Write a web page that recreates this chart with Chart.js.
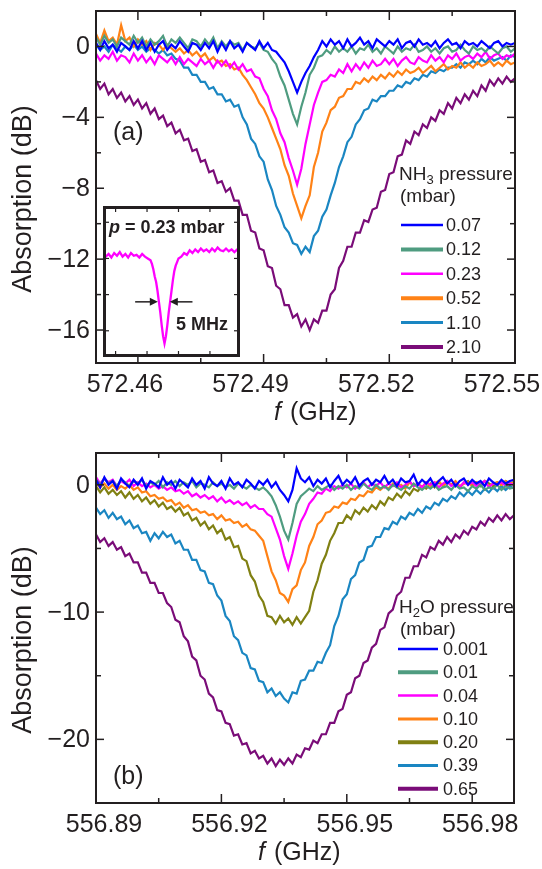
<!DOCTYPE html>
<html>
<head>
<meta charset="utf-8">
<script src="https://cdn.jsdelivr.net/npm/chart.js@4.4.1/dist/chart.umd.min.js"></script>
<style>
body { margin: 0; background: #fff; }
#wrap { position: relative; width: 542px; height: 869px; }
canvas { position: absolute; }
</style>
</head>
<body>
<div id="wrap">
<canvas id="chartA" width="542" height="440" style="left:0px;top:0px"></canvas>
<canvas id="chartB" width="542" height="429" style="left:0px;top:440px"></canvas>
<canvas id="inset" width="137" height="151" style="left:103px;top:206px"></canvas>
</div>
<script>
// ---- panel (a): NH3 line near 572.50 GHz ----
const freqA = [
572.450,572.451,572.452,572.453,572.454,572.455,572.456,572.457,572.458,572.459,
572.460,572.461,572.462,572.463,572.464,572.465,572.466,572.467,572.468,572.469,
572.470,572.471,572.472,572.473,572.474,572.475,572.476,572.477,572.478,572.479,
572.480,572.481,572.482,572.483,572.484,572.485,572.486,572.487,572.488,572.489,
572.490,572.491,572.492,572.493,572.494,572.495,572.496,572.497,572.498,572.499,
572.500,572.501,572.502,572.503,572.504,572.505,572.506,572.507,572.508,572.509,
572.510,572.511,572.512,572.513,572.514,572.515,572.516,572.517,572.518,572.519,
572.520,572.521,572.522,572.523,572.524,572.525,572.526,572.527,572.528,572.529,
572.530,572.531,572.532,572.533,572.534,572.535,572.536,572.537,572.538,572.539,
572.540,572.541,572.542,572.543,572.544,572.545,572.546,572.547,572.548,572.549,
572.550];
const nh3Pressures = ['0.07', '0.12', '0.23', '0.52', '1.10', '2.10'];
const absNH3_007 = [
0.2,-0.2,0.3,-0.1,0.1,-0.3,0.2,0.0,-0.2,0.3,
-0.1,0.3,-0.2,0.2,-0.3,0.1,0.3,-0.2,0.1,-0.1,
0.3,0.0,-0.3,0.2,0.1,-0.2,0.2,-0.1,0.3,-0.3,
0.2,-0.2,0.3,-0.1,0.1,-0.3,0.2,0.0,-0.2,0.3,
-0.1,0.2,-0.2,-0.3,-0.6,-0.9,-1.4,-2.0,-2.6,-2.0,
-1.5,-1.1,-0.6,-0.2,0.3,0.0,0.4,0.1,0.3,-0.1,
0.4,0.0,0.2,0.5,0.1,0.3,-0.1,0.4,0.2,0.0,
0.3,0.1,0.4,-0.1,0.2,0.3,0.0,0.4,0.1,0.2,
0.0,0.3,-0.1,0.2,0.4,0.1,0.2,-0.1,0.3,0.1,
0.2,0.0,0.3,0.1,-0.1,0.2,0.3,0.0,0.2,0.1,
0.2];
const absNH3_012 = [
0.5,0.1,0.6,0.2,0.4,0.0,0.5,0.3,0.1,0.6,
0.2,0.5,0.0,0.4,0.1,0.3,0.6,0.0,0.4,0.2,
0.5,0.2,-0.1,0.4,0.3,0.0,0.4,0.1,0.5,-0.1,
0.3,0.0,0.3,0.1,0.2,-0.2,0.2,0.0,-0.1,0.2,
-0.2,-0.3,-0.7,-1.0,-1.7,-2.2,-3.0,-3.8,-4.4,-3.4,
-2.6,-1.6,-1.2,-0.6,-0.5,-0.2,-0.4,0.0,-0.3,-0.1,
-0.3,0.0,-0.4,-0.1,-0.2,0.1,-0.3,-0.1,-0.4,0.0,
-0.2,-0.4,0.0,-0.3,-0.1,-0.2,0.1,-0.3,-0.2,0.0,
-0.3,-0.1,-0.4,-0.1,0.0,-0.3,-0.2,0.1,-0.2,-0.4,
0.0,-0.2,-0.1,-0.3,0.0,-0.2,-0.4,-0.1,0.0,-0.3,
-0.1];
const absNH3_023 = [
-0.4,-0.8,-0.5,-0.7,-0.3,-0.8,-0.5,-0.6,-0.9,-0.4,
-0.8,-0.5,-0.9,-0.6,-1.0,-0.5,-0.7,-0.9,-0.6,-1.0,
-0.6,-1.0,-0.7,-0.9,-1.1,-0.7,-1.0,-0.8,-1.2,-0.8,
-1.1,-0.8,-1.2,-0.9,-1.3,-1.0,-1.4,-1.3,-1.7,-1.8,
-2.4,-2.8,-3.6,-4.1,-4.9,-5.4,-6.3,-7.0,-7.8,-6.9,
-5.5,-4.4,-3.3,-2.6,-2.0,-1.9,-1.6,-1.7,-1.3,-1.5,
-1.0,-1.4,-1.0,-1.3,-0.9,-1.2,-0.8,-1.1,-1.0,-0.7,
-1.0,-0.7,-1.1,-0.8,-0.6,-0.9,-1.0,-0.6,-0.8,-0.9,
-0.5,-0.8,-0.6,-0.9,-0.5,-0.7,-0.4,-0.8,-0.6,-0.5,
-0.7,-0.4,-0.6,-0.3,-0.7,-0.5,-0.4,-0.7,-0.5,-0.6,
-0.4];
const absNH3_052 = [
0.7,0.2,0.9,0.3,0.5,0.1,1.2,0.3,0.5,0.0,
0.4,0.1,0.3,-0.2,0.2,0.1,-0.2,0.1,-0.1,-0.3,
-0.1,-0.4,-0.2,-0.5,-0.3,-0.6,-0.4,-0.8,-0.6,-0.9,
-0.8,-1.1,-1.0,-1.3,-1.2,-1.6,-1.9,-2.3,-2.7,-3.2,
-3.5,-4.0,-4.6,-5.2,-5.8,-6.7,-7.3,-8.3,-9.0,-9.7,
-9.0,-8.4,-6.8,-6.0,-4.8,-4.3,-3.6,-3.4,-2.9,-2.8,
-2.4,-2.4,-2.0,-2.1,-1.8,-2.0,-1.7,-1.9,-1.6,-1.8,
-1.5,-1.7,-1.4,-1.6,-1.3,-1.5,-1.4,-1.2,-1.5,-1.3,
-1.1,-1.4,-1.2,-1.0,-1.3,-1.1,-1.2,-0.9,-1.2,-1.0,
-1.2,-0.9,-1.1,-1.0,-0.8,-1.1,-0.9,-1.1,-0.8,-1.0,
-0.9];
const absNH3_110 = [
0.1,-0.2,0.0,-0.3,0.1,-0.1,-0.3,0.0,-0.2,0.1,
-0.2,0.0,-0.3,-0.1,-0.2,-0.4,-0.2,-0.5,-0.4,-0.7,
-0.8,-1.2,-1.2,-1.6,-1.6,-2.0,-2.0,-2.4,-2.3,-2.7,
-2.7,-3.1,-3.0,-3.4,-3.3,-4.0,-4.4,-5.2,-5.5,-6.2,
-6.5,-7.5,-8.1,-9.0,-9.5,-10.2,-10.5,-11.1,-11.2,-11.7,
-11.3,-11.6,-10.7,-10.4,-9.6,-9.2,-8.4,-7.7,-6.8,-6.2,
-5.4,-5.1,-4.4,-4.1,-3.6,-3.5,-3.0,-3.1,-2.8,-2.8,
-2.5,-2.5,-2.2,-2.3,-2.0,-2.1,-1.8,-1.9,-1.6,-1.7,
-1.4,-1.5,-1.3,-1.4,-1.2,-1.2,-1.0,-1.2,-0.9,-1.0,
-0.8,-1.0,-0.7,-0.9,-0.6,-0.8,-0.7,-0.6,-0.8,-0.5,
-0.6];
const absNH3_210 = [
-1.9,-2.4,-2.1,-2.7,-2.4,-2.9,-2.6,-3.1,-2.8,-3.3,
-3.0,-3.5,-3.2,-3.8,-3.5,-4.1,-3.9,-4.5,-4.3,-4.9,
-4.7,-5.3,-5.2,-5.9,-5.8,-6.5,-6.4,-7.1,-7.0,-7.7,
-7.6,-8.2,-8.0,-8.7,-8.7,-9.5,-9.5,-10.4,-10.5,-11.4,
-11.5,-12.4,-12.5,-13.5,-13.7,-14.6,-14.6,-15.3,-15.1,-15.8,
-15.4,-16.0,-15.4,-15.6,-14.9,-14.9,-14.0,-13.7,-12.5,-12.1,
-11.3,-11.3,-10.5,-10.5,-9.8,-9.9,-9.2,-9.1,-8.2,-8.1,
-7.2,-7.1,-6.2,-6.1,-5.3,-5.5,-4.8,-5.0,-4.4,-4.6,
-4.0,-4.2,-3.6,-3.8,-3.2,-3.5,-2.9,-3.2,-2.7,-3.0,
-2.5,-2.8,-2.2,-2.5,-1.9,-2.2,-1.8,-2.1,-1.7,-2.0,
-1.8];
const xTicksA = [572.46, 572.475, 572.49, 572.505, 572.52, 572.535, 572.55];
const xLabelsA = [572.46, 572.49, 572.52, 572.55];
const yTicksA = [0, -2, -4, -6, -8, -10, -12, -14, -16];
const yLabelsA = [0, -4, -8, -12, -16];

// ---- inset: 0.23 mbar line, offset in MHz ----
const insetOffsetMHz = [
-22,-21,-20,-19,-18,-17,-16,-15,-14,-13,-12,-11,-10,-9,-8,-7,-6,-5,
-4.5,-4,-3.5,-3,-2.5,-2,-1.5,-1,-0.5,0,0.5,1,1.5,2,2.5,3,3.5,4,4.5,
5,6,7,8,9,10,11,12,13,14,15,16,17,18,19,20,21,22,23,24,25,26,27];
const insetAbs = [
-1.7,-1.9,-1.75,-1.95,-1.7,-1.85,-1.65,-1.9,-1.75,-1.95,-1.7,-1.85,-1.8,-1.95,-1.75,-1.9,-2.0,-2.1,
-2.3,-2.6,-3.0,-3.3,-3.8,-4.4,-5.0,-5.7,-6.3,-6.7,-6.3,-5.7,-5.0,-4.4,-3.8,-3.2,-2.7,-2.4,-2.2,
-2.0,-1.9,-1.7,-1.8,-1.55,-1.7,-1.5,-1.65,-1.45,-1.6,-1.5,-1.65,-1.45,-1.6,-1.4,-1.55,-1.6,-1.45,-1.6,-1.5,-1.65,-1.5,-1.6];
const insetTicksX = [-17.5, -6.25, 5, 16.25];
const insetTicksY = [0, -2, -4, -6];

// ---- panel (b): H2O line near 556.94 GHz ----
const freqB = [
556.890,556.891,556.892,556.893,556.894,556.895,556.896,556.897,556.898,556.899,
556.900,556.901,556.902,556.903,556.904,556.905,556.906,556.907,556.908,556.909,
556.910,556.911,556.912,556.913,556.914,556.915,556.916,556.917,556.918,556.919,
556.920,556.921,556.922,556.923,556.924,556.925,556.926,556.927,556.928,556.929,
556.930,556.931,556.932,556.933,556.934,556.935,556.936,556.937,556.938,556.939,
556.940,556.941,556.942,556.943,556.944,556.945,556.946,556.947,556.948,556.949,
556.950,556.951,556.952,556.953,556.954,556.955,556.956,556.957,556.958,556.959,
556.960,556.961,556.962,556.963,556.964,556.965,556.966,556.967,556.968,556.969,
556.970,556.971,556.972,556.973,556.974,556.975,556.976,556.977,556.978,556.979,
556.980,556.981,556.982,556.983,556.984,556.985,556.986,556.987,556.988,556.989,
556.990];
const h2oPressures = ['0.001', '0.01', '0.04', '0.10', '0.20', '0.39', '0.65'];
const absH2O_0001 = [
0.4,-0.2,0.6,0.0,0.3,-0.3,0.5,0.1,-0.2,0.4,
0.0,0.5,-0.3,0.3,0.1,-0.2,0.6,0.0,0.3,-0.3,
0.4,0.1,-0.2,0.5,0.0,0.3,-0.3,0.6,0.1,-0.1,
0.3,-0.3,0.5,0.0,0.2,-0.2,0.4,0.1,-0.3,0.3,
0.0,0.4,-0.2,0.2,-0.4,-0.8,-1.3,-0.4,1.3,0.5,
0.2,0.6,-0.1,0.4,0.1,0.5,-0.2,0.3,0.7,0.0,
0.4,0.1,0.6,-0.1,0.3,0.5,0.0,0.4,0.2,0.7,
0.1,0.4,-0.1,0.5,0.2,0.3,0.8,0.0,0.4,0.1,
0.5,-0.1,0.3,0.6,0.1,0.4,-0.1,0.3,0.5,0.0,
0.4,0.1,0.3,-0.1,0.5,0.2,0.0,0.4,0.1,0.3,
0.4];
const absH2O_001 = [
0.4,0.0,0.5,0.1,0.3,-0.1,0.4,0.2,-0.1,0.3,
0.1,0.4,-0.1,0.2,0.0,0.3,-0.2,0.2,0.0,0.3,
-0.1,0.2,0.0,0.3,-0.2,0.1,0.0,-0.2,0.2,-0.1,
0.1,-0.2,0.0,-0.3,0.1,-0.1,-0.3,0.0,-0.2,-0.4,
-0.2,-0.5,-0.9,-1.6,-2.5,-3.6,-4.3,-3.0,-1.5,-0.9,
-0.6,-0.3,-0.5,-0.1,-0.4,-0.2,0.0,-0.4,-0.1,-0.3,
0.0,-0.4,-0.1,-0.3,0.1,-0.2,-0.4,0.0,-0.3,-0.1,
-0.4,0.0,-0.2,-0.4,-0.1,-0.3,0.1,-0.2,-0.4,-0.1,
-0.3,0.0,-0.4,-0.2,-0.1,-0.4,0.0,-0.3,-0.2,-0.5,
-0.1,-0.3,0.0,-0.4,-0.2,-0.3,0.0,-0.4,-0.1,-0.3,
-0.2];
const absH2O_004 = [
0.6,0.1,0.5,0.2,0.4,-0.1,0.3,0.1,0.4,-0.1,
0.2,-0.1,0.1,-0.2,0.0,-0.3,-0.1,-0.4,-0.2,-0.5,
-0.4,-0.7,-0.5,-0.9,-0.7,-1.0,-0.8,-1.1,-0.9,-1.3,
-1.0,-1.4,-1.2,-1.5,-1.3,-1.6,-1.4,-1.8,-1.6,-1.9,
-1.9,-2.3,-2.5,-3.4,-4.3,-5.6,-6.6,-5.4,-4.0,-2.9,
-2.3,-1.5,-1.1,-0.6,-0.7,-0.3,-0.5,-0.1,-0.3,0.0,
-0.2,0.1,-0.3,0.0,0.2,-0.2,0.1,-0.1,0.2,-0.2,
0.1,-0.1,0.2,-0.2,0.0,0.3,-0.1,0.1,-0.2,0.2,
0.0,0.2,-0.2,0.1,0.3,-0.1,0.1,-0.2,0.2,0.0,
0.2,-0.1,0.1,0.3,-0.2,0.1,0.0,0.2,-0.1,0.1,
0.0];
const absH2O_010 = [
0.2,-0.2,0.1,-0.3,0.0,-0.4,-0.1,-0.3,0.0,-0.4,
-0.2,-0.6,-0.5,-0.9,-0.8,-1.1,-1.0,-1.3,-1.2,-1.6,
-1.4,-1.8,-1.6,-2.0,-1.9,-2.2,-2.1,-2.4,-2.3,-2.7,
-2.4,-2.8,-2.7,-3.0,-2.9,-3.3,-3.1,-3.5,-3.6,-4.0,
-4.4,-5.6,-6.8,-7.5,-8.5,-8.7,-9.2,-8.2,-7.9,-6.7,
-6.1,-4.8,-4.1,-3.1,-2.8,-2.2,-2.1,-1.7,-1.8,-1.4,
-1.5,-1.1,-1.2,-0.8,-0.9,-0.5,-0.6,-0.2,-0.4,-0.1,
-0.3,0.1,-0.2,0.0,-0.3,0.2,-0.1,0.1,-0.2,0.2,
-0.1,0.1,0.3,-0.1,0.2,0.0,0.3,-0.1,0.1,0.2,
-0.1,0.2,0.0,0.3,-0.1,0.1,0.2,0.0,0.3,0.1,
0.2];
const absH2O_020 = [
-0.1,-0.6,-0.2,-0.7,-0.4,-0.8,-0.5,-1.0,-0.6,-1.1,
-0.8,-1.3,-1.0,-1.5,-1.2,-1.7,-1.4,-1.9,-1.7,-2.1,
-1.8,-2.4,-2.2,-2.8,-2.6,-3.2,-2.9,-3.5,-3.2,-3.8,
-3.5,-4.3,-4.1,-4.9,-4.8,-5.8,-6.0,-7.1,-7.6,-8.7,
-9.2,-10.3,-10.4,-10.9,-10.3,-10.8,-10.5,-11.0,-10.4,-10.9,
-10.4,-9.9,-8.4,-7.5,-6.2,-5.5,-4.4,-3.8,-3.0,-3.0,
-2.4,-2.7,-2.0,-2.3,-1.8,-2.1,-1.6,-1.9,-1.3,-1.6,
-1.0,-1.2,-0.7,-1.0,-0.5,-0.8,-0.3,-0.5,-0.1,-0.3,
0.1,-0.2,0.2,-0.1,0.3,0.0,0.2,-0.2,0.1,0.3,
0.0,0.2,-0.1,0.3,0.1,-0.1,0.2,0.0,0.3,0.1,
0.2];
const absH2O_039 = [
-1.8,-2.3,-2.0,-2.6,-2.2,-2.7,-2.5,-3.1,-2.8,-3.4,
-3.2,-3.8,-3.7,-4.4,-3.8,-4.2,-3.7,-4.1,-3.9,-4.6,
-4.4,-5.1,-5.1,-5.9,-5.9,-6.7,-6.8,-7.7,-7.8,-8.7,
-9.1,-10.3,-10.7,-11.9,-12.2,-13.2,-13.4,-14.4,-14.5,-15.4,
-15.5,-16.3,-16.0,-16.6,-16.3,-16.8,-17.1,-16.3,-16.4,-15.4,
-15.3,-14.6,-14.6,-13.9,-14.0,-13.2,-12.6,-11.1,-10.3,-9.0,
-8.6,-7.4,-7.1,-6.1,-5.9,-4.9,-4.8,-4.1,-4.1,-3.4,
-3.5,-2.9,-3.1,-2.5,-2.7,-2.2,-2.4,-1.9,-2.2,-1.7,
-1.9,-1.4,-1.6,-1.1,-1.3,-0.9,-1.1,-0.6,-0.9,-0.5,
-0.8,-0.4,-0.7,-0.3,-0.6,-0.2,-0.5,-0.1,-0.4,-0.1,
-0.3];
const absH2O_065 = [
-3.9,-4.5,-4.2,-4.8,-4.5,-5.1,-4.9,-5.6,-5.4,-6.1,
-6.1,-6.9,-6.9,-7.7,-7.7,-8.5,-8.5,-9.3,-9.6,-10.6,
-10.8,-11.9,-12.3,-13.5,-13.8,-15.0,-15.3,-16.4,-16.7,-17.7,
-17.8,-18.7,-18.8,-19.7,-19.6,-20.4,-20.3,-21.1,-20.9,-21.5,
-21.3,-21.9,-21.5,-22.1,-21.6,-22.0,-21.5,-21.9,-21.2,-21.4,
-20.7,-20.8,-20.1,-20.3,-19.6,-19.6,-18.7,-18.7,-17.8,-17.6,
-16.5,-16.3,-15.2,-15.0,-14.0,-13.8,-12.8,-12.5,-11.4,-11.2,
-10.1,-9.8,-8.7,-8.4,-7.3,-7.3,-6.4,-6.4,-5.5,-5.7,
-4.9,-5.1,-4.4,-4.7,-4.1,-4.5,-3.9,-4.2,-3.6,-3.9,
-3.3,-3.5,-2.9,-3.2,-2.6,-2.9,-2.4,-2.8,-2.3,-2.7,
-2.4];
const xTicksB = [556.905, 556.92, 556.935, 556.95, 556.965, 556.98];
const xLabelsB = [556.89, 556.92, 556.95, 556.98];
const yTicksB = [0, -5, -10, -15, -20];
const yLabelsB = [0, -10, -20];

// styles
const INK = '#231f20';
const FONT = '"Liberation Sans", Arial, Helvetica, sans-serif';
const colorsA = ['#0000ff', '#4f9c80', '#ff00ff', '#ff8216', '#1a86c2', '#7a0c78'];
const colorsB = ['#0000ff', '#4f9c80', '#ff00ff', '#ff8216', '#808012', '#1a86c2', '#7a0c78'];
const legendWidthsA = [2.5, 4, 2.5, 4, 3, 4];
const legendWidthsB = [2.5, 4, 2.5, 3, 4, 3, 4];

function buildDatasets(freq, series, labels, colors) {
  return series.map((vals, k) => ({
    label: labels[k],
    data: vals.map((v, i) => ({ x: freq[i], y: v })),
    borderColor: colors[k],
    borderWidth: 2.2,
    pointRadius: 0,
    fill: false,
    tension: 0
  }));
}

function line(ctx, x0, y0, x1, y1) {
  ctx.beginPath();
  ctx.moveTo(x0, y0);
  ctx.lineTo(x1, y1);
  ctx.stroke();
}

function minusLabel(v) {
  return v < 0 ? '\u2212' + Math.abs(v) : String(v);
}

// frame, inward ticks, labels, titles and legend of a main panel
function makeDecor(p) {
  return {
    id: 'decor',
    afterDatasetsDraw(chart) {
      const ctx = chart.ctx, a = chart.chartArea;
      const xs = chart.scales.x, ys = chart.scales.y;
      ctx.save();
      ctx.strokeStyle = INK;
      ctx.fillStyle = INK;
      ctx.lineWidth = 2;
      ctx.strokeRect(a.left, a.top, a.right - a.left, a.bottom - a.top);

      ctx.lineWidth = 1.5;
      p.xTicks.forEach(v => {
        const x = xs.getPixelForValue(v);
        const len = p.xLabels.includes(v) ? 9 : 5;
        line(ctx, x, a.bottom, x, a.bottom - len);
        line(ctx, x, a.top, x, a.top + len);
      });
      p.yTicks.forEach(v => {
        const y = ys.getPixelForValue(v);
        const len = p.yLabels.includes(v) ? 8 : 5;
        line(ctx, a.left, y, a.left + len, y);
        line(ctx, a.right, y, a.right - len, y);
      });

      ctx.font = '25px ' + FONT;
      ctx.textAlign = 'center';
      ctx.textBaseline = 'middle';
      p.xLabels.forEach(v => {
        ctx.fillText(v.toFixed(2), xs.getPixelForValue(v) + p.labelShift, a.bottom + 22);
      });
      ctx.textAlign = 'right';
      p.yLabels.forEach(v => {
        ctx.fillText(minusLabel(v), a.left - 6, ys.getPixelForValue(v) + 1);
      });

      // axis titles
      ctx.textAlign = 'left';
      ctx.font = 'italic 25px ' + FONT;
      ctx.fillText('f', p.xTitleX, a.bottom + 50);
      const fw = ctx.measureText('f ').width;
      ctx.font = '25px ' + FONT;
      ctx.fillText('(GHz)', p.xTitleX + fw + 2, a.bottom + 50);

      ctx.save();
      ctx.translate(24, (a.top + a.bottom) / 2 + 12);
      ctx.rotate(-Math.PI / 2);
      ctx.textAlign = 'center';
      ctx.font = '27px ' + FONT;
      ctx.fillText('Absorption (dB)', 0, 0);
      ctx.restore();

      // panel letter
      ctx.font = '25px ' + FONT;
      ctx.fillText(p.panel, a.left + 17, p.panelY);

      // legend
      const L = p.legend;
      ctx.font = '19px ' + FONT;
      let x = L.titleX;
      ctx.fillText(L.gas[0], x, L.titleY);
      x += ctx.measureText(L.gas[0]).width;
      ctx.font = '13px ' + FONT;
      ctx.fillText(L.gas[1], x, L.titleY + 5);
      x += ctx.measureText(L.gas[1]).width;
      ctx.font = '19px ' + FONT;
      ctx.fillText(L.gas[2] + ' pressure', x, L.titleY);
      ctx.fillText('(mbar)', L.titleX + 1, L.unitY);
      ctx.font = '18px ' + FONT;
      chart.data.datasets.forEach((ds, k) => {
        const y = L.rowY0 + k * L.rowDy;
        ctx.strokeStyle = ds.borderColor;
        ctx.lineWidth = L.widths[k];
        line(ctx, L.lineX0, y, L.lineX1, y);
        ctx.fillStyle = INK;
        ctx.fillText(ds.label, L.labelX, y + 1);
      });
      ctx.restore();
    }
  };
}

function mainConfig(freq, series, labels, colors, range, fit, decor) {
  return {
    type: 'line',
    data: { datasets: buildDatasets(freq, series, labels, colors) },
    options: {
      responsive: false,
      animation: false,
      events: [],
      layout: { padding: { top: fit.top, right: fit.right, left: 0, bottom: 0 } },
      plugins: { legend: { display: false }, tooltip: { enabled: false } },
      scales: {
        x: {
          type: 'linear', min: range.xMin, max: range.xMax,
          ticks: { display: false }, grid: { display: false }, border: { display: false },
          afterFit(s) { s.height = fit.xHeight; }
        },
        y: {
          type: 'linear', min: range.yMin, max: range.yMax,
          ticks: { display: false }, grid: { display: false }, border: { display: false },
          afterFit(s) { s.width = 96; }
        }
      }
    },
    plugins: [makeDecor(decor)]
  };
}

new Chart(document.getElementById('chartA'), mainConfig(
  freqA,
  [absNH3_007, absNH3_012, absNH3_023, absNH3_052, absNH3_110, absNH3_210],
  nh3Pressures, colorsA,
  { xMin: 572.45, xMax: 572.55, yMin: -17.86, yMax: 2 },
  { top: 11, right: 27, xHeight: 77 },
  {
    xTicks: xTicksA, xLabels: xLabelsA, yTicks: yTicksA, yLabels: yLabelsA,
    labelShift: -13, xTitleX: 274, panel: '(a)', panelY: 133,
    legend: { gas: ['NH', '3', ''], titleX: 399, titleY: 175, unitY: 197,
      rowY0: 225, rowDy: 24.4, lineX0: 401, lineX1: 443, labelX: 446, widths: legendWidthsA }
  }
));

new Chart(document.getElementById('chartB'), mainConfig(
  freqB,
  [absH2O_0001, absH2O_001, absH2O_004, absH2O_010, absH2O_020, absH2O_039, absH2O_065],
  h2oPressures, colorsB,
  { xMin: 556.89, xMax: 556.99, yMin: -25, yMax: 2.5 },
  { top: 13, right: 28, xHeight: 66 },
  {
    xTicks: xTicksB, xLabels: xLabelsB, yTicks: yTicksB, yLabels: yLabelsB,
    labelShift: 8, xTitleX: 258, panel: '(b)', panelY: 337,
    legend: { gas: ['H', '2', 'O'], titleX: 399, titleY: 168, unitY: 190,
      rowY0: 209, rowDy: 23.3, lineX0: 398, lineX1: 438, labelX: 443, widths: legendWidthsB }
  }
));

// inset of panel (a)
const insetDecor = {
  id: 'insetDecor',
  beforeDraw(chart) {
    const ctx = chart.ctx;
    ctx.save();
    ctx.fillStyle = '#fff';
    ctx.fillRect(0, 0, chart.width, chart.height);
    ctx.restore();
  },
  afterDatasetsDraw(chart) {
    const ctx = chart.ctx, xs = chart.scales.x, ys = chart.scales.y;
    const w = chart.width, h = chart.height;
    ctx.save();
    ctx.strokeStyle = INK;
    ctx.fillStyle = INK;
    ctx.lineWidth = 1.2;
    insetTicksX.forEach(v => {
      const x = xs.getPixelForValue(v);
      line(ctx, x, h, x, h - 6);
      line(ctx, x, 0, x, 6);
    });
    insetTicksY.forEach(v => {
      const y = ys.getPixelForValue(v);
      line(ctx, 0, y, 6, y);
      line(ctx, w, y, w - 6, y);
    });
    ctx.lineWidth = 3;
    ctx.strokeRect(1.5, 1.5, w - 3, h - 3);

    // FWHM arrows
    const ay = ys.getPixelForValue(-4.4);
    [[-10.5, -2.4], [10, 1.9]].forEach(([from, to]) => {
      const x0 = xs.getPixelForValue(from), x1 = xs.getPixelForValue(to);
      const dir = Math.sign(x1 - x0);
      ctx.lineWidth = 1.5;
      line(ctx, x0, ay, x1 - dir * 6, ay);
      ctx.beginPath();
      ctx.moveTo(x1, ay);
      ctx.lineTo(x1 - dir * 8, ay - 4);
      ctx.lineTo(x1 - dir * 8, ay + 4);
      ctx.closePath();
      ctx.fill();
    });

    ctx.textBaseline = 'alphabetic';
    ctx.textAlign = 'left';
    ctx.font = 'bold italic 18px ' + FONT;
    ctx.fillText('p', 6, 27);
    const pw = ctx.measureText('p').width;
    ctx.font = 'bold 18px ' + FONT;
    ctx.fillText(' = 0.23 mbar', 6 + pw, 27);
    ctx.fillText('5 MHz', 73, 124);
    ctx.restore();
  }
};

new Chart(document.getElementById('inset'), {
  type: 'line',
  data: {
    datasets: [{
      data: insetAbs.map((v, i) => ({ x: insetOffsetMHz[i], y: v })),
      borderColor: '#ff00ff',
      borderWidth: 2.3,
      pointRadius: 0,
      tension: 0
    }]
  },
  options: {
    responsive: false,
    animation: false,
    events: [],
    layout: { padding: 0 },
    plugins: { legend: { display: false }, tooltip: { enabled: false } },
    scales: {
      x: { type: 'linear', min: -22, max: 27, display: false },
      y: { type: 'linear', min: -7.45, max: 0.9, display: false }
    }
  },
  plugins: [insetDecor]
});
</script>
</body>
</html>
